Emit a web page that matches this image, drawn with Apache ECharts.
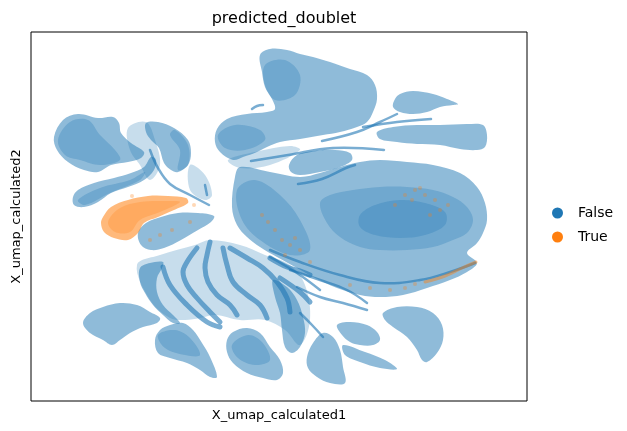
<!DOCTYPE html>
<html lang="en">
<head>
  <meta charset="UTF-8">
  <title>predicted_doublet</title>
  <script src="https://cdn.jsdelivr.net/npm/echarts@6/dist/echarts.min.js"></script>
</head>
<body style="margin:0">
  <div id="main" style="width: 627px; height: 431px;"></div>
<script>
  // cluster outlines (x right, y down)
  const blueShapes = [
    [[54,137],[63,120],[78,114],[98,118],[113,117],[119,123],[121,133],[131,143],[144,152],[141,158],[128,162],[111,165],[98,172],[84,170],[68,162],[57,150]],
    [[146,123],[158,122],[174,128],[188,140],[191,153],[188,165],[178,172],[171,170],[164,163],[159,148],[151,140],[146,132]],
    [[73,197],[78,190],[94,183],[114,178],[131,173],[144,167],[151,157],[156,160],[154,170],[144,180],[128,187],[111,193],[98,202],[84,207],[74,205]],
    [[138,233],[146,223],[161,217],[178,213],[198,213],[214,216],[211,222],[198,230],[181,240],[164,248],[151,250],[141,245]],
    [[260,55],[270,49],[287,50],[300,54],[313,57],[330,62],[350,69],[367,75],[375,85],[377,99],[373,112],[367,122],[357,127],[340,132],[323,135],[300,139],[280,142],[267,147],[257,152],[243,157],[233,160],[220,152],[215,142],[217,129],[227,119],[247,114],[267,112],[275,109],[272,99],[265,87],[262,72]],
    [[395,99],[400,94],[413,91],[433,94],[447,99],[458,104],[453,105],[440,107],[427,112],[413,114],[400,112],[393,107]],
    [[377,132],[393,127],[417,125],[440,125],[467,124],[483,125],[487,135],[485,147],[477,150],[460,149],[440,145],[417,144],[397,142],[380,139]],
    [[289,165],[297,155],[315,151],[335,150],[350,153],[352,160],[340,167],[320,172],[300,175],[291,172]],
    [[232,207],[235,177],[240,167],[270,172],[300,177],[320,173],[340,167],[360,162],[380,160],[407,162],[433,165],[460,173],[477,187],[485,203],[487,220],[483,233],[477,243],[467,253],[477,263],[467,272],[450,280],[427,288],[403,295],[380,297],[360,295],[337,288],[313,277],[297,268],[277,257],[260,247],[247,237],[237,225]],
    [[83,323],[90,313],[103,307],[120,303],[137,305],[150,312],[160,318],[157,323],[143,327],[130,333],[120,340],[112,345],[103,340],[90,333]],
    [[155,340],[160,330],[170,325],[183,323],[193,330],[202,343],[210,357],[217,377],[210,377],[200,370],[187,363],[170,358],[158,353]],
    [[227,340],[233,332],[247,328],[260,333],[270,347],[280,360],[283,373],[277,380],[263,378],[247,373],[233,363],[227,352]],
    [[140,268],[150,263],[163,262],[162,268],[157,278],[157,292],[163,305],[173,315],[180,323],[173,323],[163,315],[153,305],[145,293],[140,282]],
    [[273,280],[287,287],[297,300],[303,317],[305,333],[300,347],[292,353],[285,347],[282,330],[280,313],[275,297]],
    [[307,357],[313,343],[323,333],[333,337],[340,350],[343,367],[345,383],[330,383],[317,377],[308,368]],
    [[337,325],[350,322],[367,325],[377,332],[380,340],[373,345],[360,345],[350,342],[342,335]],
    [[343,345],[365,352],[385,360],[397,369],[380,368],[360,362],[345,355]],
    [[383,313],[397,307],[417,307],[433,313],[442,325],[443,340],[437,353],[427,362],[422,360],[417,350],[407,337],[393,327],[385,320]]
  ];
  // thin sparse areas between clusters
  const blueHaze = [
    [[128,128],[146,122],[155,140],[160,165],[150,180],[140,165],[130,150]],
    [[137,265],[160,255],[195,245],[210,240],[240,245],[265,255],[290,265],[305,285],[310,320],[300,345],[285,330],[265,320],[240,320],[215,315],[200,318],[185,320],[170,318],[150,300]],
    [[190,165],[205,175],[212,195],[205,200],[190,190]],
    [[228,160],[255,152],[290,146],[300,150],[270,165],[240,168]]
  ];
  // denser cores
  const blueCores = [
    [[58,140],[70,122],[88,120],[100,135],[115,150],[120,160],[100,165],[80,160],[65,155]],
    [[175,130],[188,145],[188,165],[178,170],[180,150],[170,135]],
    [[78,200],[100,188],[130,180],[145,172],[140,180],[110,193],[85,205]],
    [[265,65],[285,60],[300,75],[295,95],[275,100],[265,85]],
    [[218,135],[235,125],[260,130],[265,140],[245,150],[225,148]],
    [[320,203],[330,195],[353,190],[380,187],[407,187],[433,190],[453,197],[467,207],[473,220],[467,233],[453,240],[433,247],[407,250],[380,250],[360,247],[340,237],[327,223]],
    [[360,215],[375,205],[400,200],[425,203],[445,212],[445,225],[425,235],[400,238],[375,235],[360,227]],
    [[237,190],[255,180],[280,195],[300,220],[310,250],[290,255],[260,240],[242,220]],
    [[158,335],[175,330],[190,338],[200,355],[185,355],[165,348]],
    [[232,345],[248,335],[262,342],[270,360],[255,365],[238,358]]
  ];
  const blueStrands = [
    [[251,161],[288,155],[333,148],[384,150]],
    [[322,141],[357,132],[380,122],[397,114]],
    [[363,127],[397,122],[431,119]],
    [[298,184],[322,179],[346,168],[355,165]],
    [[252,109],[257,106],[263,105]],
    [[205,185],[207,195]],
    [[150,150],[158,168],[170,184],[190,195],[209,205]],
    [[270,257],[297,273],[320,290]],
    [[297,287],[320,297],[343,303],[367,310]],
    [[290,270],[320,280],[347,290],[367,303]],
    [[300,313],[312,325],[323,337]],
    [[270,250],[300,262],[340,275],[380,283],[420,280],[450,272],[475,263]]
  ];
  const blueLeaves = [
    [[163,267],[170,285],[187,305],[207,322],[220,327]],
    [[197,248],[187,262],[183,272],[187,285],[197,298],[210,312],[220,322]],
    [[210,242],[207,255],[205,268],[208,282],[217,295],[230,305],[237,315]],
    [[223,248],[227,265],[233,282],[247,295],[260,305],[267,318]],
    [[230,248],[247,258],[263,268],[277,282],[287,298],[290,312]],
    [[270,258],[287,267],[303,272],[310,275]],
    [[280,278],[300,292],[310,302]]
  ];
  const orangeShapes = [
    [[103,217],[111,207],[128,200],[148,196],[168,196],[186,198],[188,203],[174,210],[158,217],[144,223],[138,233],[128,240],[114,238],[104,232],[101,223]]
  ];
  const orangeCores = [
    [[108,222],[120,208],[140,202],[165,201],[180,202],[160,212],[140,220],[130,232],[115,232]]
  ];
  const orangeStrands = [
    [[425,282],[445,276],[462,268],[476,262]]
  ];
  const orangeDots = [
    [405,195],[415,190],[425,195],[435,200],[440,210],[430,215],[412,200],[395,205],[448,205],[420,188],
    [275,230],[282,240],[290,245],[300,250],[268,222],[285,255],[310,262],[262,215],[295,238],
    [350,285],[370,288],[390,290],[405,288],[415,284],
    [150,240],[160,235],[172,230],[190,222],[132,196],[194,205]
  ];

  const BLUE = '#1f77b4';
  const ORANGE = '#ff7f0e';

  function polygons(shapes, fill) {
    return function (params, api) {
      const pts = shapes[params.dataIndex].map(p => api.coord(p));
      return { type: 'polygon', shape: { points: pts, smooth: 0.35 }, style: { fill: fill } };
    };
  }
  function lines(list, stroke, width) {
    return function (params, api) {
      const pts = list[params.dataIndex].map(p => api.coord(p));
      return { type: 'polyline', shape: { points: pts, smooth: 0.4 }, style: { fill: 'none', stroke: stroke, lineWidth: width, lineCap: 'round' } };
    };
  }
  function customSeries(name, color, list, render) {
    return {
      name: name,
      type: 'custom',
      itemStyle: { color: color },
      data: list.map(s => s[0]),
      renderItem: render,
      silent: true
    };
  }

  const chart = echarts.init(document.getElementById('main'));
  chart.setOption({
    animation: false,
    title: {
      text: 'predicted_doublet',
      left: 279,
      textAlign: 'center',
      top: 6,
      textStyle: { fontFamily: 'DejaVu Sans', fontSize: 16, fontWeight: 'normal', color: '#000' }
    },
    legend: {
      orient: 'vertical',
      left: 547,
      top: 201,
      itemWidth: 11,
      itemHeight: 11,
      itemGap: 10,
      icon: 'circle',
      data: ['False', 'True'],
      textStyle: { fontFamily: 'DejaVu Sans', fontSize: 14, color: '#000', padding: [0, 0, 0, 10] }
    },
    grid: {
      left: 31, top: 32, width: 496, height: 369,
      show: true, borderColor: '#000', borderWidth: 1
    },
    xAxis: {
      type: 'value', min: 31, max: 527,
      name: 'X_umap_calculated1', nameLocation: 'middle', nameGap: 8,
      nameTextStyle: { fontFamily: 'DejaVu Sans', fontSize: 13, color: '#000', verticalAlign: 'top' },
      axisLine: { show: false }, axisTick: { show: false }, axisLabel: { show: false }, splitLine: { show: false }
    },
    yAxis: {
      type: 'value', min: 32, max: 401, inverse: true,
      name: 'X_umap_calculated2', nameLocation: 'middle', nameGap: 8,
      nameTextStyle: { fontFamily: 'DejaVu Sans', fontSize: 13, color: '#000', verticalAlign: 'bottom' },
      axisLine: { show: false }, axisTick: { show: false }, axisLabel: { show: false }, splitLine: { show: false }
    },
    series: [
      customSeries('False', BLUE, blueHaze, polygons(blueHaze, 'rgba(31,119,180,0.25)')),
      customSeries('False', BLUE, blueShapes, polygons(blueShapes, 'rgba(31,119,180,0.5)')),
      customSeries('False', BLUE, blueCores, polygons(blueCores, 'rgba(31,119,180,0.28)')),
      customSeries('False', BLUE, blueStrands, lines(blueStrands, 'rgba(31,119,180,0.6)', 2.5)),
      customSeries('False', BLUE, blueLeaves, lines(blueLeaves, 'rgba(31,119,180,0.6)', 5)),
      customSeries('True', ORANGE, orangeShapes, polygons(orangeShapes, 'rgba(255,127,14,0.55)')),
      customSeries('True', ORANGE, orangeCores, polygons(orangeCores, 'rgba(255,127,14,0.25)')),
      customSeries('True', ORANGE, orangeStrands, lines(orangeStrands, 'rgba(255,127,14,0.45)', 3)),
      {
        name: 'True',
        type: 'scatter',
        symbolSize: 4,
        itemStyle: { color: ORANGE, opacity: 0.3 },
        data: orangeDots,
        silent: true
      }
    ]
  });
</script>
</body>
</html>
